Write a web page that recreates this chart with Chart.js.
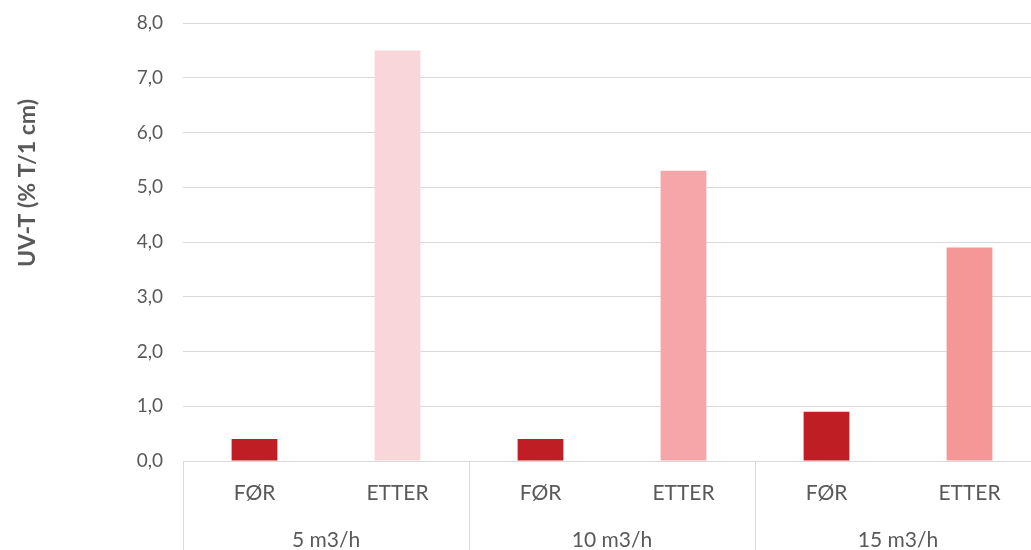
<!DOCTYPE html>
<html>
<head>
<meta charset="utf-8">
<script src="https://cdn.jsdelivr.net/npm/chart.js@4"></script>
<style>
  html, body { margin: 0; padding: 0; background: #fff; overflow: hidden; }
  #wrap { width: 1041px; height: 550px; }
</style>
</head>
<body>
<div id="wrap"><canvas id="mycanvas"></canvas></div>
<script>
// data
var groups = ["5 m3/h", "10 m3/h", "15 m3/h"];
var phases = ["FØR", "ETTER"];
var values = [0.4, 7.5, 0.4, 5.3, 0.9, 3.9];
var barColors = ["#BE1E24", "#F9D6DA", "#BE1E24", "#F6A6A8", "#BE1E24", "#F59797"];
var yTitle = "UV-T (% T/1 cm)";

var labels = [];
for (var g in groups) {
	for (var p in phases) {
		labels.push(phases[p]);
	}
}

var textColor = "#595959";
var gridColor = "#D9D9D9";
var fontFamily = "Lato, 'Open Sans', sans-serif";

// draws the group row, the dividers and the y title
var groupAxis = {
	id: "groupAxis",
	afterDraw: function(chart) {
		var ctx = chart.ctx;
		var x = chart.scales.x;
		var area = chart.chartArea;
		var per = phases.length;
		var step = x.getPixelForValue(1) - x.getPixelForValue(0);
		ctx.save();
		ctx.strokeStyle = gridColor;
		ctx.lineWidth = 1;
		for (var i = 0; i <= groups.length; i++) {
			var px = Math.round(x.getPixelForValue(i * per) - step / 2) + 0.5;
			ctx.beginPath();
			ctx.moveTo(px, area.bottom);
			ctx.lineTo(px, chart.height);
			ctx.stroke();
		}
		ctx.fillStyle = textColor;
		ctx.font = "21px " + fontFamily;
		ctx.textAlign = "center";
		ctx.textBaseline = "middle";
		for (var j = 0; j < groups.length; j++) {
			var c = (x.getPixelForValue(j * per) + x.getPixelForValue(j * per + per - 1)) / 2;
			ctx.fillText(groups[j], c, area.bottom + 79);
		}
		ctx.translate(28, 183);
		ctx.rotate(-Math.PI / 2);
		ctx.font = "bold 23px " + fontFamily;
		ctx.fillText(yTitle, 0, 0);
		ctx.restore();
	}
};

var chartdata = {
	labels: labels,
	datasets: [
		{
			label: "UV-T",
			data: values,
			backgroundColor: barColors,
			borderWidth: 0,
			barPercentage: 1,
			categoryPercentage: 0.32
		}
	]
};

var ctx = document.getElementById("mycanvas");

var BarGraph = new Chart(ctx, {
	type: "bar",
	data: chartdata,
	plugins: [groupAxis],
	options: {
		responsive: true,
		maintainAspectRatio: false,
		animation: false,
		layout: { padding: { top: 23, right: 0, left: 0, bottom: 0 } },
		plugins: {
			legend: { display: false },
			tooltip: { enabled: false }
		},
		scales: {
			x: {
				grid: { display: false },
				border: { display: false },
				ticks: {
					color: textColor,
					font: { family: fontFamily, size: 21 },
					padding: 12,
					maxRotation: 0
				},
				afterFit: function(s) { s.height = 89; }
			},
			y: {
				min: 0,
				max: 8,
				grid: { color: gridColor, drawTicks: false },
				border: { display: false },
				ticks: {
					stepSize: 1,
					color: textColor,
					font: { family: fontFamily, size: 19 },
					padding: 20,
					callback: function(v) { return v.toFixed(1).replace(".", ","); }
				},
				afterFit: function(s) { s.width = 183; s.paddingTop = 0; s.paddingBottom = 0; }
			}
		}
	}
});
</script>
</body>
</html>
